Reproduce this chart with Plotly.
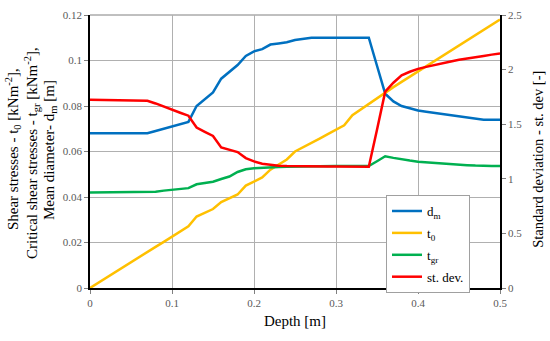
import plotly.graph_objects as go

depth = [round(i * 0.01, 2) for i in range(51)]

d_m = [0.068, 0.068, 0.068, 0.068, 0.068, 0.068, 0.068, 0.068, 0.069, 0.070,
       0.071, 0.072, 0.073, 0.080, 0.083, 0.086, 0.092, 0.095, 0.098, 0.102,
       0.104, 0.105, 0.107, 0.1075, 0.108, 0.109, 0.1095, 0.110, 0.110, 0.110,
       0.110, 0.110, 0.110, 0.110, 0.110, 0.0977, 0.0854, 0.082, 0.080, 0.079,
       0.078, 0.0775, 0.077, 0.0765, 0.076, 0.0755, 0.075, 0.0745, 0.074, 0.074,
       0.074]

t_0 = [0.000, 0.0023, 0.0045, 0.0068, 0.0090, 0.0113, 0.0135, 0.0158, 0.0181, 0.0203,
       0.0226, 0.0248, 0.0271, 0.0314, 0.0330, 0.0347, 0.0378, 0.0394, 0.0411, 0.0450,
       0.0468, 0.0486, 0.0520, 0.0543, 0.0565, 0.0600, 0.0618, 0.0637, 0.0657, 0.0676,
       0.0696, 0.0715, 0.0760, 0.0785, 0.0810, 0.0835, 0.0860, 0.0883, 0.0906, 0.0929,
       0.0951, 0.0974, 0.0997, 0.1020, 0.1043, 0.1066, 0.1089, 0.1111, 0.1134, 0.1157,
       0.1180]

t_gr = [0.042, 0.042, 0.042, 0.042, 0.042, 0.042, 0.042, 0.042, 0.0423, 0.0428,
        0.0432, 0.0435, 0.0439, 0.0456, 0.0460, 0.0467, 0.0479, 0.0490, 0.0510, 0.0522,
        0.0526, 0.0529, 0.0531, 0.0532, 0.0533, 0.0534, 0.0535, 0.0536, 0.0536, 0.0536,
        0.0536, 0.0536, 0.0536, 0.0536, 0.0536, 0.0557, 0.0579, 0.0572, 0.0565, 0.0560,
        0.0555, 0.0552, 0.0550, 0.0547, 0.0543, 0.0541, 0.0540, 0.0538, 0.0536, 0.0536,
        0.0536]

st_dev = [1.725, 1.724, 1.723, 1.722, 1.721, 1.720, 1.718, 1.715, 1.690, 1.660,
          1.630, 1.605, 1.578, 1.470, 1.430, 1.392, 1.287, 1.265, 1.245, 1.190,
          1.160, 1.138, 1.126, 1.120, 1.117, 1.115, 1.114, 1.113, 1.113, 1.112,
          1.112, 1.111, 1.111, 1.111, 1.111, 1.450, 1.798, 1.880, 1.947, 1.980,
          2.007, 2.025, 2.043, 2.060, 2.075, 2.090, 2.100, 2.115, 2.125, 2.137,
          2.148]

left_title_lines = ["Shear stresses - t<sub>0</sub> [kNm<sup>-2</sup>],",
                    "Critical shear stresses - t<sub>gr</sub> [kNm<sup>-2</sup>],",
                    "Mean diameter- d<sub>m</sub> [m]"]
right_title = "Standard deviation - st. dev [-]"
x_title = "Depth [m]"

FONT = "Liberation Serif, Times New Roman, Times, serif"
W, H = 550, 341
ML, MR, MT, MB = 90, 50, 9, 53
PW, PH = W - ML - MR, H - MT - MB


def px_x(p):
    return (p - ML) / PW


def px_y(p):
    return (MT + PH - p) / PH


fig = go.Figure()
fig.add_trace(go.Scatter(x=depth, y=d_m, mode="lines", name="d<sub>m</sub>",
                         line=dict(color="#0070C0", width=2.5), legendgroup="a"))
fig.add_trace(go.Scatter(x=depth, y=t_0, mode="lines", name="t<sub>0</sub>",
                         line=dict(color="#FFC000", width=2.5), legendgroup="b"))
fig.add_trace(go.Scatter(x=depth, y=t_gr, mode="lines", name="t<sub>gr</sub>",
                         line=dict(color="#00B050", width=2.5), legendgroup="c"))
fig.add_trace(go.Scatter(x=depth, y=st_dev, mode="lines", name="st. dev.",
                         line=dict(color="#FF0000", width=2.5), legendgroup="d",
                         yaxis="y2"))

tickfont = dict(size=11, color="#595959", family=FONT)

annotations = []
for xc, yc, txt in zip([13, 32, 50], [146, 150, 147], left_title_lines):
    annotations.append(dict(text=txt, textangle=-90, showarrow=False,
                            xref="paper", yref="paper", x=px_x(xc), y=px_y(yc),
                            xanchor="center", yanchor="middle",
                            font=dict(size=15, family=FONT, color="black")))
annotations.append(dict(text=right_title, textangle=-90, showarrow=False,
                        xref="paper", yref="paper", x=px_x(538), y=px_y(157),
                        xanchor="center", yanchor="middle",
                        font=dict(size=14.5, family=FONT, color="black")))

fig.update_layout(
    width=W, height=H,
    margin=dict(l=ML, r=MR, t=MT, b=MB),
    paper_bgcolor="white", plot_bgcolor="white",
    font=dict(family=FONT, color="black"),
    showlegend=True,
    legend=dict(x=px_x(386), y=px_y(193), xanchor="left", yanchor="top",
                bgcolor="white", bordercolor="#a0a0a0", borderwidth=1,
                font=dict(size=13, family=FONT), tracegroupgap=2,
                traceorder="grouped", itemwidth=30),
    xaxis=dict(range=[0, 0.5], dtick=0.1, showgrid=True, gridcolor="#b0b0b0",
               showline=True, linecolor="black", linewidth=1.5,
               ticks="outside", ticklen=4, tickcolor="#808080",
               tickfont=tickfont, zeroline=False,
               title=dict(text=x_title, font=dict(size=15, family=FONT), standoff=8)),
    yaxis=dict(range=[0, 0.12], dtick=0.02, showgrid=True, gridcolor="#b0b0b0",
               showline=True, linecolor="black", linewidth=1.5,
               ticks="outside", ticklen=4, tickcolor="#808080",
               tickfont=tickfont, zeroline=False),
    yaxis2=dict(range=[0, 2.5], dtick=0.5, overlaying="y", side="right",
                showgrid=False, showline=True, linecolor="black", linewidth=1.5,
                ticks="outside", ticklen=4, tickcolor="#808080",
                tickfont=tickfont, zeroline=False),
    annotations=annotations,
    shapes=[dict(type="line", xref="paper", yref="paper", x0=0, x1=1, y0=1, y1=1,
                 line=dict(color="#808080", width=1), layer="below")],
)

fig.write_html("out.html", config={"displayModeBar": False},
               post_script="document.body.style.margin='0px';")
